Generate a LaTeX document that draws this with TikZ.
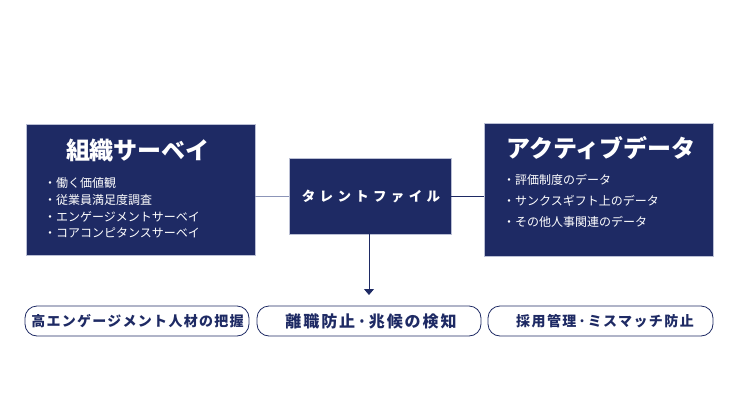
\documentclass[tikz,border=0pt]{standalone}
\usepackage{fontspec}
\setmainfont{Noto Sans CJK JP}
\usetikzlibrary{arrows.meta}
\definecolor{navy}{RGB}{30,42,100}
\definecolor{paleline}{RGB}{140,149,184}

\begin{document}
\begin{tikzpicture}[x=1pt,y=-1pt,
    srcbox/.style={fill=navy,draw=paleline!60,line width=0.6pt,inner sep=0pt},
    bigtitle/.style={text=white,font=\fontsize{24}{26}\selectfont\bfseries},
    bulletline/.style={text=white,anchor=west,inner sep=0pt,font=\fontsize{12}{14}\selectfont},
    goalbox/.style={draw=navy,line width=0.8pt,rounded corners=12pt,
      minimum height=30pt,inner sep=0pt},
    goaltext/.style={text=navy,inner sep=0pt}]
  \useasboundingbox (0,0) rectangle (740,418);
  % the three data boxes
  \node[srcbox,minimum width=229pt,minimum height=131pt] (survey) at (140.5,189.5) {};
  \node[srcbox,minimum width=229pt,minimum height=133pt] (active) at (598.5,189.5) {};
  \node[srcbox,minimum width=162pt,minimum height=76pt] (talent) at (370,196) {};
  \node[text=white,font=\fontsize{13.5}{15}\selectfont\bfseries\addfontfeature{LetterSpace=32}]
    (talentlabel) at (371,196) {タレントファイル};
  % titles
  \node[bigtitle] (surveytitle) at (138,150) {組織サーベイ};
  \node[bigtitle] (activetitle) at (601,148) {アクティブデータ};
  % bullets
  \foreach \yy/\txt [count=\i] in {183/働く価値観,200/従業員満足度調査,
      217/エンゲージメントサーベイ,233/コアコンピタンスサーベイ}
    \node[bulletline] (survey\i) at (44,\yy) {・\txt};
  \foreach \yy/\txt [count=\i] in {180/評価制度のデータ,201/サンクスギフト上のデータ,
      222/その他人事関連のデータ}
    \node[bulletline] (active\i) at (503,\yy) {・\txt};
  % connectors
  \draw[paleline,line width=1pt] (survey.east |- talent.west) -- (talent.west);
  \draw[navy,line width=0.8pt] (talent.east) -- (active.west |- talent.east);
  \coordinate (arrowend) at (369,295);
  \draw[navy,line width=0.8pt,-{Triangle[width=10pt,length=6pt]}]
    (talent.south -| arrowend) -- (arrowend);
  % outcomes
  \node[goalbox,minimum width=224pt] (goalleft) at (137,321) {};
  \node[goalbox,minimum width=224pt] (goalmid) at (369,321) {};
  \node[goalbox,minimum width=225pt] (goalright) at (600.5,321) {};
  \node[goaltext,font=\fontsize{14}{16}\selectfont\bfseries\addfontfeature{LetterSpace=9}]
    (goalleftlabel) at (137.5,321) {高エンゲージメント人材の把握};
  \node[goaltext,font=\fontsize{16}{18}\selectfont\bfseries\addfontfeature{LetterSpace=12}]
    (goalmidlabel) at (371,321) {離職防止·兆候の検知};
  \node[goaltext,font=\fontsize{14}{16}\selectfont\bfseries\addfontfeature{LetterSpace=10}]
    (goalrightlabel) at (605,321) {採用管理·ミスマッチ防止};
\end{tikzpicture}
\end{document}
